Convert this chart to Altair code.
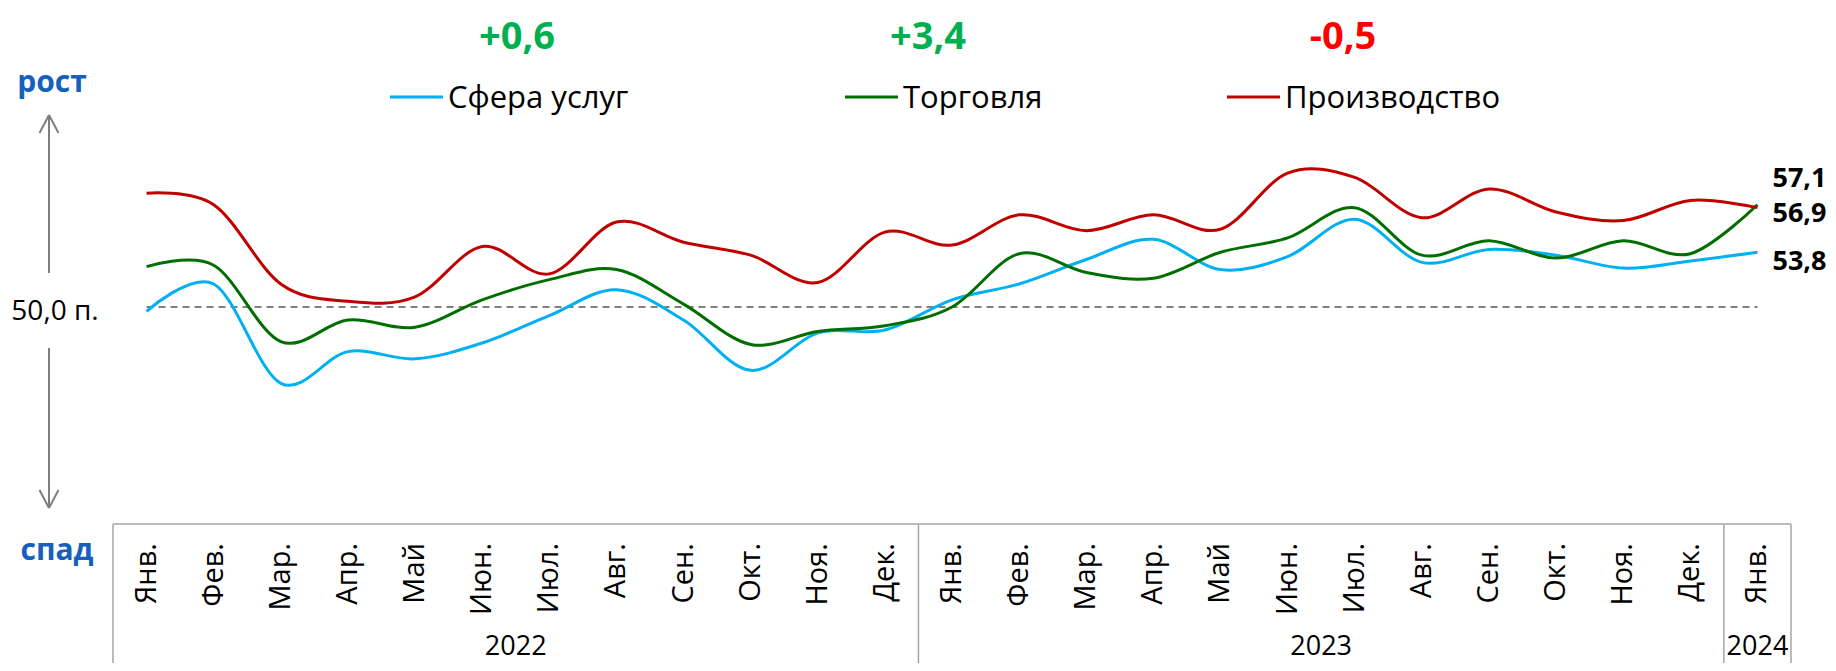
import altair as alt
import pandas as pd

# ---------------- data ----------------
months = ["Янв.", "Фев.", "Мар.", "Апр.", "Май", "Июн.", "Июл.", "Авг.", "Сен.", "Окт.", "Ноя.", "Дек."]
years = ["2022", "2023", "2024"]
months_per_year = [12, 12, 1]

series_names = ["Сфера услуг", "Торговля", "Производство"]
services = [49.7, 51.6, 44.7, 46.9, 46.4, 47.5, 49.4, 51.2, 49.1, 45.6, 48.2, 48.4,
            50.5, 51.6, 53.3, 54.7, 52.6, 53.5, 56.1, 53.1, 54.0, 53.6, 52.7, 53.2, 53.8]
trade = [52.8, 52.9, 47.6, 49.1, 48.6, 50.5, 51.9, 52.6, 50.2, 47.4, 48.3, 48.7,
         50.0, 53.7, 52.4, 52.0, 53.8, 54.8, 56.9, 53.6, 54.6, 53.4, 54.6, 53.7, 57.1]
manufacturing = [57.9, 57.1, 51.6, 50.4, 50.7, 54.2, 52.3, 55.9, 54.5, 53.6, 51.7, 55.2,
                 54.3, 56.4, 55.3, 56.4, 55.4, 59.3, 59.0, 56.2, 58.2, 56.6, 56.0, 57.4, 56.9]
series_values = [services, trade, manufacturing]
series_colors = ["#00b0f0", "#006e00", "#c00000"]
threshold = 50.0

FONT = "Open Sans"
BLUE_TXT = "#1560bd"
GRID = "#a6a6a6"
ARROW = "#7f7f7f"

# ---------------- tables ----------------
month_labels = []
year_rows = []
bounds = [-0.5]
start = 0
for y, n in zip(years, months_per_year):
    month_labels += months[:n]
    year_rows.append({"year": y, "center": start + (n - 1) / 2})
    start += n
    bounds.append(start - 0.5)

rows = []
for k, (name, vals) in enumerate(zip(series_names, series_values)):
    for i, v in enumerate(vals):
        rows.append({"idx": i, "series": name, "value": v, "k": k})
df = pd.DataFrame(rows)
df_months = pd.DataFrame({"idx": list(range(len(month_labels))), "label": month_labels})
df_years = pd.DataFrame(year_rows)
df_bounds = pd.DataFrame({"b": bounds})


def fmt(v, sign=False):
    s = f"{v:+.1f}" if sign else f"{v:.1f}"
    return s.replace(".", ",")


n_last = len(services) - 1
X = alt.Scale(domain=[-0.5, n_last + 0.5], nice=False, zero=False)
Y = alt.Scale(domain=[25.278, 70.764], nice=False, zero=False)
C = alt.Scale(domain=series_names, range=series_colors)

lines = alt.Chart(df).mark_line(interpolate="cardinal", strokeWidth=3).encode(
    x=alt.X("idx:Q", scale=X, axis=None),
    y=alt.Y("value:Q", scale=Y, axis=None),
    color=alt.Color("series:N", scale=C, legend=None),
    order="k:Q",
)

dash = alt.Chart(pd.DataFrame({"y": [threshold], "a": [0], "b": [n_last]})).mark_rule(
    strokeDash=[7, 5], color="#808080", strokeWidth=2
).encode(
    y=alt.Y("y:Q", scale=Y, axis=None),
    x=alt.X("a:Q", scale=X, axis=None),
    x2="b:Q",
)

month_text = alt.Chart(df_months).mark_text(
    angle=270, align="right", baseline="middle", fontSize=29, font=FONT, color="#000000"
).encode(
    x=alt.X("idx:Q", scale=X, axis=None),
    y=alt.value(535),
    text="label:N",
)

year_text = alt.Chart(df_years).mark_text(
    align="center", baseline="alphabetic", fontSize=27, font=FONT, color="#000000"
).encode(
    x=alt.X("center:Q", scale=X, axis=None),
    y=alt.value(647),
    text="year:N",
)

box_top = alt.Chart(pd.DataFrame({"a": [bounds[0]], "b": [bounds[-1]]})).mark_rule(
    color=GRID, strokeWidth=1.5
).encode(
    x=alt.X("a:Q", scale=X, axis=None),
    x2="b:Q",
    y=alt.value(516),
)

box_sides = alt.Chart(df_bounds).mark_rule(color=GRID, strokeWidth=1.5).encode(
    x=alt.X("b:Q", scale=X, axis=None),
    y=alt.value(516),
    y2=alt.value(660),
)


# arrows (decoration)
def seg(x1, y1, x2, y2, color=ARROW, width=2):
    return alt.Chart(pd.DataFrame({"k": [0]})).mark_rule(color=color, strokeWidth=width).encode(
        x=alt.value(x1), y=alt.value(y1), x2=alt.value(x2), y2=alt.value(y2)
    )


ax = -64
arrows = [
    seg(ax, 107, ax, 265), seg(ax, 107, ax - 9.5, 125), seg(ax, 107, ax + 9.5, 125),
    seg(ax, 340, ax, 500), seg(ax, 500, ax - 9.5, 482), seg(ax, 500, ax + 9.5, 482),
]


def label(txt, x, y, size, color, bold=False, align="center", baseline="alphabetic"):
    return alt.Chart(pd.DataFrame({"t": [txt]})).mark_text(
        align=align, baseline=baseline, fontSize=size, font=FONT,
        fontWeight="bold" if bold else "normal", color=color
    ).encode(x=alt.value(x), y=alt.value(y), text="t:N")


side_labels = [
    label("рост", -61, 84, 30, BLUE_TXT, bold=True),
    label("спад", -56, 552, 30, BLUE_TXT, bold=True),
    label(fmt(threshold) + " п.", -58, 312, 28, "#000000"),
]

# legend (hand-placed entries)
legend_x = [277, 732, 1114]
legend = []
for name, col, lx in zip(series_names, series_colors, legend_x):
    legend.append(seg(lx, 89, lx + 53, 89, color=col, width=3))
    legend.append(label(name, lx + 58, 100, 31, "#000000", align="left"))

# header changes (last month vs previous)
header_x = [404, 815, 1230]
headers = []
for vals, hx in zip(series_values, header_x):
    d = round(vals[-1] - vals[-2], 1)
    headers.append(label(fmt(d, sign=True), hx, 41, 38, "#00b050" if d >= 0 else "#ff0000", bold=True))

# end value labels
end_dy = [10, -26, 6]
end_labels = []
for name, vals, dy in zip(series_names, series_values, end_dy):
    end_labels.append(
        alt.Chart(pd.DataFrame({"idx": [n_last], "value": [vals[-1]], "t": [fmt(vals[-1])]})).mark_text(
            align="left", baseline="middle", fontSize=27, font=FONT, fontWeight="bold",
            color="#000000", dx=15, dy=dy
        ).encode(
            x=alt.X("idx:Q", scale=X, axis=None),
            y=alt.Y("value:Q", scale=Y, axis=None),
            text="t:N",
        )
    )

chart = alt.layer(
    box_top, box_sides, dash, lines, month_text, year_text, *arrows, *side_labels,
    *legend, *headers, *end_labels
).properties(
    width=1678, height=655,
    autosize=alt.AutoSizeParams(type="none"),
    padding={"left": 105, "top": 0, "right": 37, "bottom": 0},
).configure_view(stroke=None)

chart.save("out.html", embed_options={"renderer": "svg", "actions": False})
